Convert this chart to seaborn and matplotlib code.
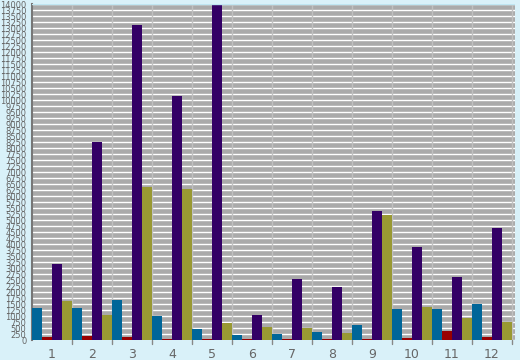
import matplotlib
matplotlib.use("Agg")
import matplotlib.pyplot as plt
import seaborn as sns
import pandas as pd
import numpy as np

categories = ["1", "2", "3", "4", "5", "6", "7", "8", "9", "10", "11", "12"]
series_names = ["A", "B", "C", "D"]
blue = [5.3, 5.3, 6.7, 4.0, 1.8, 0.8, 1.0, 1.3, 2.5, 5.2, 5.2, 6.0]
red = [0.5, 0.7, 0.5, 0.2, 0.2, 0.2, 0.2, 0.2, 0.2, 0.3, 1.5, 0.5]
purple = [12.7, 33.0, 52.5, 40.7, 55.8, 4.2, 10.2, 8.8, 21.5, 15.5, 10.5, 18.7]
olive = [6.5, 4.2, 25.5, 25.2, 2.8, 2.2, 2.0, 1.2, 20.8, 5.5, 3.7, 3.0]
colors = ["#006699", "#990000", "#330066", "#999933"]

rows = []
for name, vals in zip(series_names, [blue, red, purple, olive]):
    for c, v in zip(categories, vals):
        rows.append({"cat": c, "series": name, "value": v})
df = pd.DataFrame(rows)

sns.set_style("white")
fig = plt.figure(figsize=(5.2, 3.6), dpi=100, facecolor="#d9f1f9")
ax = fig.add_axes([32/520, 20/360, 483/520, 336/360])
ax.set_facecolor("#aaaaaa")

sns.barplot(data=df, x="cat", y="value", hue="series", palette=colors,
            width=1.0, dodge=True, saturation=1, ax=ax, legend=False,
            errorbar=None, zorder=3, linewidth=0)

ax.set_xlim(-0.5, 11.575)
ax.set_ylim(0, 56)

yt = np.arange(0, 57, 1)
ax.set_yticks(yt)
ax.set_yticklabels([str(int(v * 250)) for v in yt], fontsize=6, color="#666666")
ax.yaxis.grid(True, color="white", linewidth=1, zorder=1)
ax.set_axisbelow(True)

ax.set_xticks(np.arange(12))
ax.set_xticklabels(categories, fontsize=9, color="#666666")
ax.tick_params(axis="x", length=0, pad=6)
ax.tick_params(axis="y", length=3, color="#777777", pad=1)
for b in np.arange(0.5, 12, 1):
    ax.axvline(b, color="#c0c0c0", linewidth=1, zorder=2)
    ax.plot([b, b], [0, -0.012], transform=ax.get_xaxis_transform(),
            color="#888888", linewidth=1, clip_on=False)

for s in ["top", "right", "bottom"]:
    ax.spines[s].set_visible(False)
ax.spines["left"].set_color("#777777")
ax.spines["left"].set_linewidth(1.5)
ax.axhline(56, color="#bfe6f2", linewidth=1, zorder=4)

ax.set_xlabel("")
ax.set_ylabel("")
fig.savefig("out.png", dpi=100, facecolor=fig.get_facecolor())
